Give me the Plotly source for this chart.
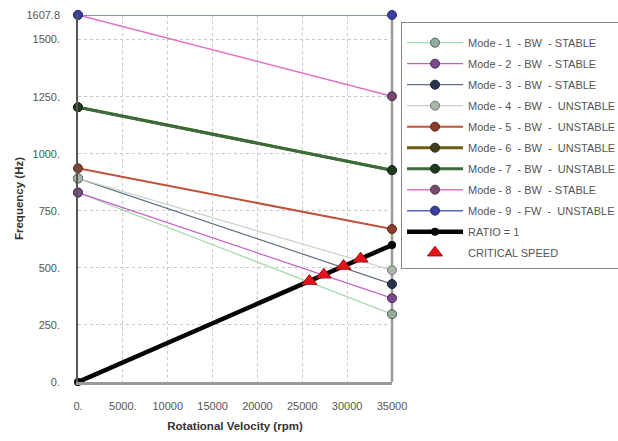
import plotly.graph_objects as go

# Rotational speed endpoints (rpm)
rpm = [0, 35000]

# Whirl frequencies (Hz) of each mode at 0 and 35000 rpm
mode_names = [
    "Mode - 1\u00a0 - BW\u00a0 - STABLE",
    "Mode - 2\u00a0 - BW\u00a0 - STABLE",
    "Mode - 3\u00a0 - BW\u00a0 - STABLE",
    "Mode - 4\u00a0 - BW\u00a0 -\u00a0 UNSTABLE",
    "Mode - 5\u00a0 - BW\u00a0 -\u00a0 UNSTABLE",
    "Mode - 6\u00a0 - BW\u00a0 -\u00a0 UNSTABLE",
    "Mode - 7\u00a0 - BW\u00a0 -\u00a0 UNSTABLE",
    "Mode - 8\u00a0 - BW\u00a0 - STABLE",
    "Mode - 9\u00a0 - FW\u00a0 -\u00a0 UNSTABLE",
]
mode_freqs = [
    [830, 297],
    [830, 367],
    [892, 429],
    [892, 490],
    [936, 670],
    [1204, 928],
    [1204, 928],
    [1607.8, 1252],
    [1607.8, 1607.8],
]

# 1x excitation line
ratio_freq = [0, 600]

# Critical speeds (rpm, Hz)
crit_rpm = [25800, 27400, 29600, 31500]
crit_freq = [442, 470, 508, 540]

# Axis ticks
y_ticks = [0, 250, 500, 750, 1000, 1250, 1500, 1607.8]
y_tick_text = ["0.", "250.", "500.", "750.", "1000.", "1250.", "1500.", "1607.8"]
x_ticks = [0, 5000, 10000, 15000, 20000, 25000, 30000, 35000]
x_tick_text = ["0.", "5000.", "10000", "15000", "20000", "25000", "30000", "35000"]

# Styles: (line colour, line width, marker fill, marker outline)
styles = [
    ("#a6d9b0", 1.2, "#94ad9c", "#4f5f55"),
    ("#c45cc4", 1.2, "#7b4a8c", "#4a2a5a"),
    ("#5f6e80", 1.2, "#27324d", "#1a2035"),
    ("#c9d2c9", 1.2, "#a9b8aa", "#6e786e"),
    ("#c0533a", 2.0, "#8c3b2c", "#5a2418"),
    ("#6e5e14", 3.0, "#3f3f1c", "#2a2a10"),
    ("#3a6b3c", 3.0, "#1f3a21", "#142614"),
    ("#e070c4", 1.5, "#734c6c", "#4a2e46"),
    ("#5566c8", 1.5, "#3a3f9e", "#262a70"),
]

fig = go.Figure()

for i, (name, freqs, st) in enumerate(zip(mode_names, mode_freqs, styles)):
    lc, lw, mf, mo = st
    fig.add_trace(go.Scatter(
        x=rpm, y=freqs, name=name, mode="lines+markers",
        line=dict(color=lc, width=lw),
        marker=dict(color=mf, size=9, symbol="circle", line=dict(color=mo, width=1)),
        legendgroup=f"g{i}", cliponaxis=False,
    ))

fig.add_trace(go.Scatter(
    x=rpm, y=ratio_freq, name="RATIO = 1", mode="lines+markers",
    line=dict(color="#050505", width=4.5),
    marker=dict(color="#050505", size=8),
    legendgroup="ratio", cliponaxis=False,
))

fig.add_trace(go.Scatter(
    x=crit_rpm, y=crit_freq, name="CRITICAL SPEED", mode="markers",
    marker=dict(color="#e8121a", size=13, symbol="triangle-up",
                line=dict(color="#a01018", width=1)),
    legendgroup="crit", cliponaxis=False,
))

# Right-hand frame edge of the plotting area
fig.add_shape(type="line", xref="paper", yref="paper", x0=1, x1=1, y0=0, y1=1,
              line=dict(color="#9a9a9a", width=2.5), layer="below")

fig.update_layout(
    width=618, height=441,
    margin=dict(l=78, r=226, t=15, b=59, autoexpand=False),
    paper_bgcolor="white", plot_bgcolor="white",
    font=dict(family="Liberation Sans, Arial, sans-serif", color="#444"),
    showlegend=True,
    legend=dict(
        x=1.0287, y=0.981, xanchor="left", yanchor="top",
        bordercolor="#8a8a8a", borderwidth=1, bgcolor="white",
        font=dict(size=11, color="#555", family="Liberation Sans, Arial, sans-serif"),
        traceorder="grouped", tracegroupgap=2, itemwidth=56,
        title=dict(text="\u00a0", font=dict(size=4)),
    ),
    xaxis=dict(
        range=[0, 35000], tickvals=x_ticks, ticktext=x_tick_text,
        showgrid=True, gridcolor="#c8c8c8", griddash="dot", gridwidth=1,
        zeroline=False, showline=True, linecolor="#9a9a9a", linewidth=2.5,
        ticks="", ticklabelstandoff=12,
        tickfont=dict(size=11, color="#555"),
        title=dict(text="<b>Rotational Velocity (rpm)</b>", font=dict(size=11.5, color="#333"),
                   standoff=11),
    ),
    yaxis=dict(
        range=[0, 1607.8], tickvals=y_ticks, ticktext=y_tick_text,
        showgrid=True, gridcolor="#c8c8c8", griddash="dot", gridwidth=1,
        zeroline=False, showline=True, linecolor="#555", linewidth=1.5,
        ticks="", ticklabelstandoff=14,
        tickfont=dict(size=11, color="#555"),
        title=dict(text="<b>Frequency (Hz)</b>", font=dict(size=11.5, color="#333"),
                   standoff=0),
    ),
)

fig.write_html("out.html")
